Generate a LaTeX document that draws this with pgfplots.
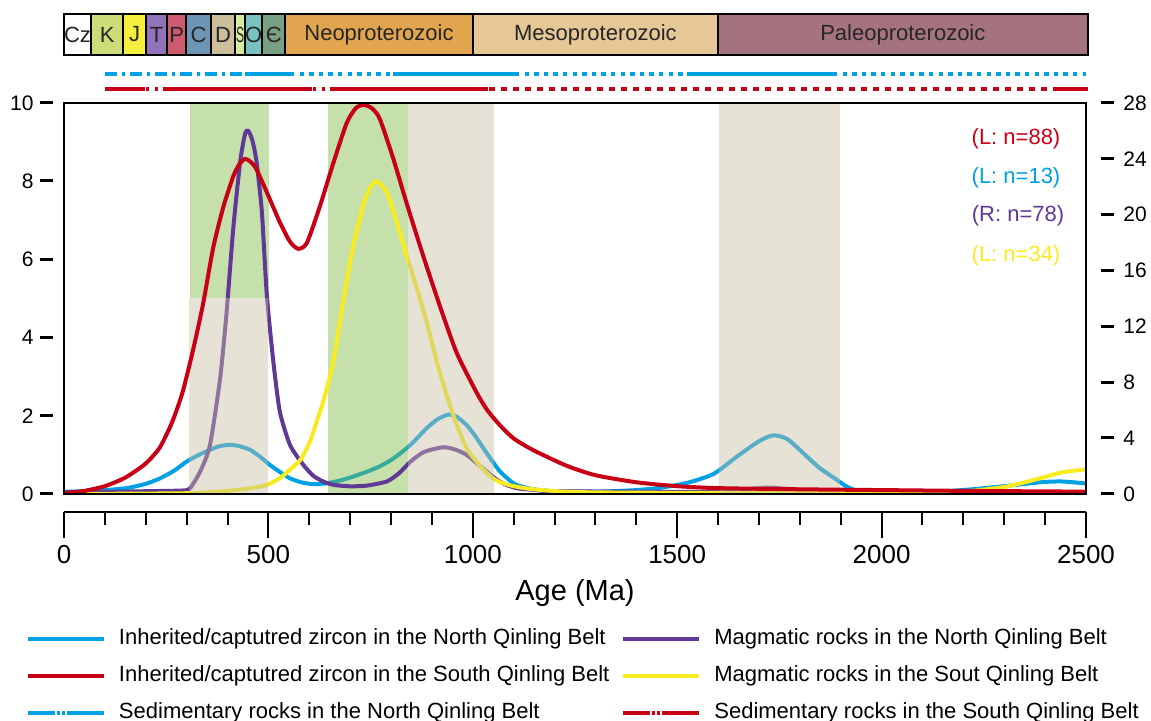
\documentclass[border=0pt]{standalone}
\usepackage{pgfplots}
\pgfplotsset{compat=1.18}
\usepackage{graphicx}
\usepackage{fontspec}
\setmainfont{Liberation Sans}
\definecolor{blueC}{RGB}{0,160,228}
\definecolor{redC}{RGB}{200,0,22}
\definecolor{purpC}{RGB}{96,56,150}
\definecolor{yelC}{RGB}{248,236,30}
\definecolor{beigeS}{RGB}{199,191,164}
\definecolor{greenS}{RGB}{128,186,71}
\definecolor{tCz}{RGB}{255,255,255}
\definecolor{tK}{RGB}{205,220,120}
\definecolor{tJ}{RGB}{245,238,60}
\definecolor{tT}{RGB}{145,115,185}
\definecolor{tP}{RGB}{205,90,110}
\definecolor{tC}{RGB}{110,150,180}
\definecolor{tD}{RGB}{205,190,155}
\definecolor{tS}{RGB}{215,235,160}
\definecolor{tO}{RGB}{120,195,190}
\definecolor{tE}{RGB}{120,160,130}
\definecolor{tNeo}{RGB}{225,165,80}
\definecolor{tMeso}{RGB}{230,200,150}
\definecolor{tPaleo}{RGB}{165,115,125}
\begin{document}
\begin{tikzpicture}
\useasboundingbox (0,0) rectangle (575.5pt,360.5pt);
% ---------- top: time scale and sedimentary coverage ----------
\begin{axis}[
  at={(32pt,313pt)}, anchor=south west,
  scale only axis, width=511pt, height=40.5pt,
  xmin=0, xmax=2500, ymin=0, ymax=81,
  hide axis, clip=false]
\addplot[draw=none, forget plot] coordinates {(0,0)};
\foreach \a/\b/\c in {0/66/tCz,66/145/tK,145/201/tJ,201/252/tT,252/299/tP,299/359/tC,359/419/tD,419/443/tS,443/485/tO,485/541/tE,541/1000/tNeo,1000/1600/tMeso,1600/2505/tPaleo}{
  \edef\temp{\noexpand\filldraw[fill=\c, draw=black, line width=0.8pt] (axis cs:\a,40) rectangle (axis cs:\b,81);}
  \temp
}
\draw[line width=1.1pt] (axis cs:0,40) rectangle (axis cs:2505,81);
\begin{scope}[every node/.style={font=\fontsize{11}{12}\selectfont, text=black!85}]
\node at (axis cs:33,60.5) {Cz};
\node at (axis cs:105.5,60.5) {K};
\node at (axis cs:173,60.5) {J};
\node at (axis cs:226.5,60.5) {T};
\node at (axis cs:275.5,60.5) {P};
\node at (axis cs:329,60.5) {C};
\node at (axis cs:389,60.5) {D};
\node at (axis cs:431,60.5) {\scalebox{0.55}[1]{S}};
\node at (axis cs:464,60.5) {O};
\node at (axis cs:513,60.5) {Є};
\node at (axis cs:770.5,60.5) {Neoproterozoic};
\node at (axis cs:1300,60.5) {Mesoproterozoic};
\node at (axis cs:2052,60.5) {Paleoproterozoic};
\end{scope}
% North Qinling sedimentary (blue)
\addplot[blueC, line width=2pt, dash pattern=on 6pt off 2.5pt on 1.5pt off 2.5pt] coordinates {(100,21) (443,21)};
\addplot[blueC, line width=2pt] coordinates {(443,21) (553,21)};
\addplot[blueC, line width=2pt, dash pattern=on 2.2pt off 2.6pt] coordinates {(553,21) (805,21)};
\addplot[blueC, line width=2pt] coordinates {(805,21) (1103,21)};
\addplot[blueC, line width=2pt, dash pattern=on 2.2pt off 2.6pt] coordinates {(1103,21) (1524,21)};
\addplot[blueC, line width=2pt] coordinates {(1524,21) (1881,21)};
\addplot[blueC, line width=2pt, dash pattern=on 2.2pt off 2.6pt] coordinates {(1881,21) (2500,21)};
% South Qinling sedimentary (red)
\addplot[redC, line width=2pt] coordinates {(100,6) (198,6)};
\addplot[redC, line width=2pt, dash pattern=on 1.5pt off 3pt] coordinates {(200,6) (242,6)};
\addplot[redC, line width=2pt] coordinates {(242,6) (607,6)};
\addplot[redC, line width=2pt, dash pattern=on 1.5pt off 3pt] coordinates {(609,6) (651,6)};
\addplot[redC, line width=2pt] coordinates {(651,6) (1037,6)};
\addplot[redC, line width=2pt, dash pattern=on 3pt off 3pt] coordinates {(1040,6) (2422,6)};
\addplot[redC, line width=2pt] coordinates {(2422,6) (2505,6)};
\end{axis}
% ---------- right scale ----------
\begin{axis}[
  at={(32pt,113.5pt)}, anchor=south west,
  scale only axis, width=511pt, height=195.5pt,
  xmin=0, xmax=2500, ymin=0, ymax=28,
  axis x line=none, axis y line*=right,
  y axis line style={draw=none},
  ytick={0,4,...,28},
  major tick length=0pt,
  /pgf/number format/assume math mode=true,
  yticklabel={\rule[3pt]{6.5pt}{1.5pt}\hspace{4.5pt}\pgfmathprintnumber{\tick}},
  yticklabel style={font=\fontsize{10.5}{12}\selectfont, anchor=west, inner sep=0pt, xshift=7.5pt}]
\addplot[draw=none, forget plot] coordinates {(0,0)};
\end{axis}
% ---------- main axis ----------
\begin{axis}[
  at={(32pt,113.5pt)}, anchor=south west,
  scale only axis, width=511pt, height=195.5pt,
  xmin=0, xmax=2500, ymin=0, ymax=10,
  xtick=\empty, ytick={0,2,...,10}, ytick pos=left,
  major tick length=0pt,
  axis on top,
  axis line style={line width=1pt},
  /pgf/number format/assume math mode=true,
  yticklabel={\pgfmathprintnumber{\tick}\hspace{3pt}\rule[3pt]{6.5pt}{1.5pt}},
  yticklabel style={font=\fontsize{10.5}{12}\selectfont, anchor=east, inner sep=0pt, xshift=-5.5pt},
  legend columns=2,
  legend cell align=left,
  legend style={at={(-0.0372,-0.3442)}, anchor=north west,
    draw=none, fill=none, inner sep=0pt, outer sep=0pt,
    font=\fontsize{11}{13}\selectfont,
    row sep=8pt, column sep=6.5pt,
    nodes={inner sep=0pt, text height=8pt, text depth=2.5pt},
    /tikz/every even column/.append style={column sep=6pt}},
  legend image code/.code={\draw[#1] (0pt,0pt) -- (38pt,0pt);}
]
\addlegendimage{blueC, line width=2pt}
\addlegendentry{Inherited/captutred zircon in the North Qinling Belt}
\addlegendimage{purpC, line width=2pt}
\addlegendentry{Magmatic rocks in the North Qinling Belt}
\addlegendimage{redC, line width=2pt}
\addlegendentry{Inherited/captutred zircon in the South Qinling Belt}
\addlegendimage{yelC, line width=2pt}
\addlegendentry{Magmatic rocks in the Sout Qinling Belt}
\addlegendimage{legend image code/.code={\draw[blueC, line width=2pt, dash pattern=on 13.5pt off 1pt on 1.5pt off 1pt on 1.5pt off 1pt on 18.5pt] (0pt,0pt) -- (38pt,0pt);}}
\addlegendentry{Sedimentary rocks in the North Qinling Belt}
\addlegendimage{legend image code/.code={\draw[redC, line width=2pt, dash pattern=on 13.5pt off 1pt on 1.5pt off 1pt on 1.5pt off 1pt on 18.5pt] (0pt,0pt) -- (38pt,0pt);}}
\addlegendentry{Sedimentary rocks in the South Qinling Belt}

% blue: inherited zircon, North Qinling (left scale)
\addplot[blueC, line width=2pt, smooth, tension=0.4, forget plot] coordinates {
(0,0.05) (100,0.1) (153,0.15) (200,0.26) (235,0.4) (270,0.6) (300,0.83) (330,1.0)
(357,1.13) (380,1.22) (406,1.26) (430,1.22) (455,1.13) (480,0.95) (504,0.74) (530,0.55)
(553,0.4) (580,0.3) (610,0.25) (640,0.27) (670,0.33) (700,0.42) (741,0.57) (775,0.72)
(806,0.91) (847,1.25) (887,1.68) (915,1.92) (940,2.03) (960,1.98) (985,1.76) (1005,1.5)
(1026,1.17) (1047,0.85) (1067,0.57) (1090,0.35) (1107,0.23) (1148,0.12) (1200,0.07)
(1300,0.06) (1400,0.1) (1466,0.17) (1530,0.3) (1590,0.52) (1649,0.98) (1700,1.35)
(1735,1.5) (1770,1.4) (1818,0.95) (1850,0.65) (1884,0.41) (1910,0.22) (1935,0.1)
(1980,0.05) (2050,0.04) (2150,0.07) (2221,0.12) (2300,0.2) (2388,0.3) (2440,0.32) (2500,0.27)};
% green shading
\fill[greenS, opacity=0.45] (axis cs:308,5) rectangle (axis cs:502,10);
\fill[greenS, opacity=0.45] (axis cs:646,0) rectangle (axis cs:841,10);
% purple: magmatic rocks, North Qinling (right scale, converted)
\addplot[purpC, line width=2pt, smooth, tension=0.4, forget plot] table[x index=0, y expr=\thisrowno{1}/2.8] {
0 0.15
100 0.15
200 0.2
290 0.25
308 0.4
333 1.6
357 3.5
382 8.3
398 13.1
414 19.0
431 23.8
443 25.8
451 26.0
461 25.3
471 23.8
484 20.2
496 14.3
512 9.5
528 5.9
553 3.5
585 2.1
610 1.3
634 0.9
660 0.65
700 0.55
741 0.6
790 0.9
820 1.5
847 2.3
880 3.0
928 3.35
960 3.15
985 2.8
1010 2.2
1034 1.6
1060 1.0
1083 0.64
1110 0.4
1148 0.3
1200 0.2
1500 0.15
1620 0.2
1720 0.45
1820 0.25
1900 0.15
2500 0.1
};
% yellow: magmatic rocks, South Qinling (left scale)
\addplot[yelC, line width=2pt, smooth, tension=0.4, forget plot] coordinates {
(0,0.0) (300,0.02) (398,0.08) (450,0.14) (496,0.23) (530,0.42) (561,0.7) (580,0.9)
(602,1.35) (618,1.85) (634,2.36) (659,3.38) (683,4.92) (708,6.37) (732,7.39) (750,7.85)
(765,8.0) (789,7.73) (814,6.96) (838,6.11) (863,5.26) (887,4.41) (912,3.38) (936,2.53)
(961,1.76) (985,1.17) (1005,0.88) (1026,0.62) (1047,0.42) (1067,0.3) (1100,0.2) (1148,0.12)
(1250,0.05) (1500,0.03) (2100,0.03) (2200,0.06) (2300,0.18) (2380,0.38) (2440,0.55) (2500,0.63)};
% beige shading
\fill[beigeS, opacity=0.45] (axis cs:306,0) rectangle (axis cs:500,5);
\fill[beigeS, opacity=0.45] (axis cs:841,0) rectangle (axis cs:1052,10);
\fill[beigeS, opacity=0.45] (axis cs:1602,0) rectangle (axis cs:1898,10);
% red: inherited zircon, South Qinling (left scale)
\addplot[redC, line width=2pt, smooth, tension=0.4, forget plot] coordinates {
(0,0.02) (50,0.08) (100,0.2) (150,0.42) (200,0.78) (235,1.2) (265,1.85) (290,2.6)
(315,3.65) (340,4.85) (365,6.3) (390,7.35) (415,8.15) (430,8.45) (443,8.57) (456,8.5)
(470,8.32) (496,7.72) (528,6.95) (553,6.45) (573,6.27) (594,6.42) (626,7.36) (659,8.47)
(692,9.5) (715,9.88) (735,9.95) (755,9.85) (773,9.58) (806,8.56) (838,7.44) (879,6.08)
(920,4.79) (961,3.6) (1009,2.6) (1035,2.15) (1067,1.75) (1100,1.42) (1148,1.12)
(1230,0.72) (1300,0.48) (1400,0.3) (1500,0.2) (1600,0.15) (1800,0.12) (2000,0.1)
(2200,0.08) (2500,0.06)};
\end{axis}
% ---------- separate age axis ----------
\begin{axis}[
  at={(32pt,104.5pt)}, anchor=south west,
  scale only axis, width=511pt, height=1pt,
  xmin=0, xmax=2500, ymin=0, ymax=1,
  axis x line*=bottom, axis y line=none,
  axis line style={line width=1pt, -},
  xtick={0,500,...,2500}, minor x tick num=4,
  tick align=outside,
  major tick length=13pt, minor tick length=6.5pt,
  every tick/.style={black, line width=1pt},
  /pgf/number format/assume math mode=true,
  /pgf/number format/1000 sep={},
  xticklabel style={font=\fontsize{13}{15}\selectfont}]
\addplot[draw=none, forget plot] coordinates {(0,0)};
\end{axis}
\node[font=\fontsize{14.5}{16}\selectfont] at (287.5pt,64pt) {Age (Ma)};
% sample sizes
\node[font=\fontsize{11}{13}\selectfont, text=redC] at (508pt,291pt) {(L: n=88)};
\node[font=\fontsize{11}{13}\selectfont, text=blueC] at (508pt,271.5pt) {(L: n=13)};
\node[font=\fontsize{11}{13}\selectfont, text=purpC] at (509pt,252.5pt) {(R: n=78)};
\node[font=\fontsize{11}{13}\selectfont, text=yelC] at (508pt,232.5pt) {(L: n=34)};
\end{tikzpicture}
\end{document}
